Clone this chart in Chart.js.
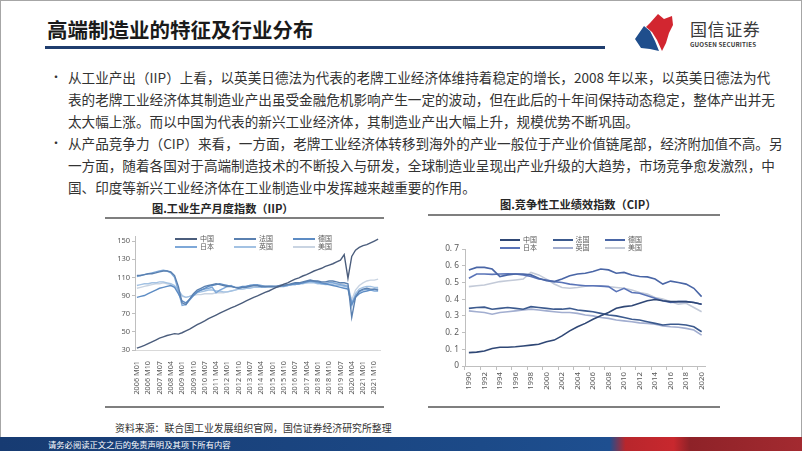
<!DOCTYPE html>
<html><head><meta charset="utf-8">
<script src="https://cdn.jsdelivr.net/npm/chart.js@4.4.0/dist/chart.umd.min.js"></script>
<style>
html,body{margin:0;padding:0;background:#fff;}
body{width:802px;height:451px;position:relative;overflow:hidden;font-family:"Noto Sans CJK SC","Noto Sans",sans-serif;}
#frame{position:absolute;left:0;top:0;width:800px;height:449px;border:1px solid #a6a6a6;}
.abs{position:absolute;white-space:nowrap;}
#title{left:47px;top:15px;font-size:20.5px;font-weight:bold;color:#1a1a1a;line-height:28px;}
#rule{left:45px;top:46px;width:560px;height:3px;background:#1f3d6e;}
.txt{position:absolute;left:68px;font-size:13.6px;color:#333;white-space:nowrap;line-height:20px;}
.dot{position:absolute;left:50px;font-size:12px;color:#333;line-height:20px;}
.ctitle{position:absolute;font-size:11.2px;font-weight:bold;color:#262626;white-space:nowrap;line-height:14px;}
.hr{position:absolute;height:1.5px;background:#7f7f7f;}
.leg{position:absolute;font-size:7px;color:#595959;line-height:8px;}
.leg span.item{position:absolute;white-space:nowrap;}
.leg i{display:inline-block;vertical-align:middle;height:2px;margin-right:3px;}
#src{left:115px;top:421px;font-size:9.9px;color:#333;line-height:14px;}
#foot{position:absolute;left:0;top:437px;width:802px;height:14px;background:linear-gradient(90deg,#173b72 0%,#1c4a88 60%,#1e4f90 76%,#b8262c 78%,#c8282e 84%,#8e2228 86%,#a32a30 100%);}
#foottxt{left:48px;top:437px;font-size:8.3px;color:#fff;line-height:14px;}
canvas{position:absolute;}
</style>
</head><body>
<div id="frame"></div>
<div class="abs" id="title">高端制造业的特征及行业分布</div>
<div class="abs" id="rule"></div>
<svg class="abs" style="left:630px;top:10px" width="50" height="45" viewBox="630 10 50 45">
  <polygon points="650,23 658,14 664,19 672,16 673,25 669,33 666,43 662,51 657,40 652,32 646,27" fill="#d22630"/>
  <polygon points="635,39 644,26 650,31 655,41 659,51 650,49 641,48" fill="#1f4e8c"/>
</svg>
<div class="abs" style="left:690px;top:18px;font-size:17px;color:#3a3a3a;line-height:22px;letter-spacing:0.6px">国信证券</div>
<div class="abs" style="left:690px;top:41px;font-size:6.2px;font-weight:bold;color:#3a3a3a;line-height:8px;letter-spacing:0.15px">GUOSEN SECURITIES</div>

<div class="dot" style="top:67px">•</div>
<div class="txt" style="top:67px">从工业产出（IIP）上看，以英美日德法为代表的老牌工业经济体维持着稳定的增长，2008 年以来，以英美日德法为代</div>
<div class="txt" style="top:89px">表的老牌工业经济体其制造业产出虽受金融危机影响产生一定的波动，但在此后的十年间保持动态稳定，整体产出并无</div>
<div class="txt" style="top:111px">太大幅上涨。而以中国为代表的新兴工业经济体，其制造业产出大幅上升，规模优势不断巩固。</div>
<div class="dot" style="top:133px">•</div>
<div class="txt" style="top:133px">从产品竞争力（CIP）来看，一方面，老牌工业经济体转移到海外的产业一般位于产业价值链尾部，经济附加值不高。另</div>
<div class="txt" style="top:155px">一方面，随着各国对于高端制造技术的不断投入与研发，全球制造业呈现出产业升级的大趋势，市场竞争愈发激烈，中</div>
<div class="txt" style="top:177px">国、印度等新兴工业经济体在工业制造业中发挥越来越重要的作用。</div>

<div class="ctitle" style="left:152px;top:201px">图.工业生产月度指数（IIP）</div>
<div class="hr" style="left:105px;top:217px;width:279px"></div>
<div class="hr" style="left:105px;top:406px;width:279px"></div>
<div class="ctitle" style="left:500px;top:197px">图.竞争性工业绩效指数（CIP）</div>
<div class="hr" style="left:428px;top:214px;width:292px"></div>
<div class="hr" style="left:428px;top:406px;width:292px"></div>

<canvas id="c1" style="left:95px;top:228px;width:295px;height:180px" width="295" height="180"></canvas>
<canvas id="c2" style="left:415px;top:240px;width:305px;height:165px" width="305" height="165"></canvas>
<div class="leg" id="leg1" style="left:175px;top:234px"></div>
<div class="leg" id="leg2" style="left:500px;top:235px"></div>

<div class="abs" id="src">资料来源：联合国工业发展组织官网，国信证券经济研究所整理</div>
<div id="foot"></div>
<div class="abs" id="foottxt">请务必阅读正文之后的免责声明及其项下所有内容</div>

<script>
// ---------- IIP (monthly index, sampled quarterly) ----------
const iipLabels = [
 '2006 M01','2006 M04','2006 M07','2006 M10','2007 M01','2007 M04','2007 M07','2007 M10',
 '2008 M01','2008 M04','2008 M07','2008 M10','2009 M01','2009 M04','2009 M07','2009 M10',
 '2010 M01','2010 M04','2010 M07','2010 M10','2011 M01','2011 M04','2011 M07','2011 M10',
 '2012 M01','2012 M04','2012 M07','2012 M10','2013 M01','2013 M04','2013 M07','2013 M10',
 '2014 M01','2014 M04','2014 M07','2014 M10','2015 M01','2015 M04','2015 M07','2015 M10',
 '2016 M01','2016 M04','2016 M07','2016 M10','2017 M01','2017 M04','2017 M07','2017 M10',
 '2018 M01','2018 M04','2018 M07','2018 M10','2019 M01','2019 M04','2019 M07','2019 M10',
 '2020 M01','2020 M04','2020 M07','2020 M10','2021 M01','2021 M04','2021 M07','2021 M10',
 '2022 M01'];
const iipChina  = [32,33.5,35,37,39,41,43,44.5,46,47,48,47.5,49,51,53,55.5,58,60,62,64.5,66.5,68.5,70.5,72.5,74.5,76.5,78,80,82,84,86,88,89.5,91.5,93.5,95,97,99,100.5,102.5,104,106,108,109.5,111.5,113,115,117,118.5,120,122,123.5,125,127,129,135,109,133,140,143,145,146,148,150,152];
const iipFrance = [112,112,113,114,114,115,116,117,117,116,112,100,82,80,86,92,96,98,100,101,102,103,102,101,100,100,99,98,99,99,100,101,101,100,100,100,100,100,101,101,102,103,104,104,105,106,107,106,106,105,105,106,106,105,104,104,103,66,88,95,97,98,97,97,96];
const iipGermany= [88,89,90,92,94,96,98,99,100,101,99,92,84,82,86,90,94,96,98,100,101,102,103,102,101,100,99,99,100,100,101,101,101,100,100,100,100,100,101,101,102,102,103,103,104,105,106,106,105,104,103,102,101,100,99,98,97,80,88,92,94,95,96,97,97];
const iipJapan  = [111,112,113,114,115,116,117,118,117,115,110,95,79,80,85,90,94,96,97,98,99,93,96,98,100,101,99,98,99,100,101,102,102,101,100,100,100,99,100,100,101,102,102,103,104,105,106,105,104,103,103,104,104,103,102,101,100,82,90,94,96,97,96,95,95];
const iipUK     = [101,102,103,103,104,104,105,105,104,103,101,96,90,88,89,91,93,94,95,96,96,95,95,94,94,95,96,97,97,98,98,99,99,99,99,100,100,100,101,101,101,102,102,103,103,104,104,104,103,103,102,102,102,101,101,100,99,78,92,97,99,100,100,99,99];
const iipUS     = [98,99,100,101,102,103,103,104,103,102,100,95,89,88,89,90,91,91,92,92,92,93,93,93,94,95,96,97,97,98,99,99,100,100,100,100,100,100,100,101,101,102,103,103,104,104,105,105,104,104,104,104,104,103,103,102,101,85,96,101,104,106,107,107,108];
const iipYTicks = [30,50,70,90,110,130,150];

// ---------- CIP (annual) ----------
const cipYears = ['1990','1991','1992','1993','1994','1995','1996','1997','1998','1999','2000','2001','2002','2003','2004','2005','2006','2007','2008','2009','2010','2011','2012','2013','2014','2015','2016','2017','2018','2019','2020'];
const cipChina  = [0.08,0.083,0.09,0.105,0.112,0.112,0.115,0.12,0.125,0.13,0.145,0.155,0.18,0.21,0.235,0.255,0.28,0.3,0.32,0.345,0.355,0.36,0.375,0.39,0.398,0.39,0.385,0.385,0.385,0.38,0.37];
const cipFrance = [0.345,0.35,0.352,0.34,0.345,0.35,0.345,0.34,0.355,0.35,0.345,0.34,0.34,0.345,0.335,0.33,0.325,0.315,0.305,0.3,0.29,0.28,0.275,0.265,0.255,0.245,0.25,0.25,0.245,0.235,0.205];
const cipGermany= [0.575,0.59,0.59,0.58,0.535,0.545,0.55,0.55,0.545,0.525,0.51,0.505,0.52,0.54,0.55,0.555,0.565,0.58,0.575,0.555,0.56,0.545,0.535,0.533,0.52,0.49,0.508,0.50,0.49,0.465,0.415];
const cipJapan  = [0.525,0.55,0.55,0.548,0.55,0.552,0.55,0.545,0.535,0.52,0.515,0.505,0.50,0.49,0.485,0.48,0.48,0.478,0.475,0.445,0.465,0.44,0.435,0.42,0.405,0.39,0.38,0.385,0.385,0.38,0.37];
const cipUK     = [0.33,0.325,0.32,0.31,0.32,0.325,0.33,0.335,0.34,0.335,0.33,0.325,0.32,0.32,0.315,0.305,0.3,0.29,0.285,0.275,0.27,0.265,0.258,0.255,0.25,0.24,0.235,0.232,0.225,0.215,0.185];
const cipUS     = [0.475,0.48,0.485,0.495,0.505,0.51,0.515,0.52,0.56,0.545,0.52,0.49,0.47,0.465,0.47,0.478,0.48,0.48,0.475,0.47,0.465,0.455,0.44,0.43,0.41,0.40,0.385,0.37,0.375,0.35,0.325];

const seriesNames = ['中国','法国','德国','日本','英国','美国'];
const iipColors = ['#4b5d7c','#5a80b0','#5d8cc4','#7ea8d8','#a3c2e3','#c9d4e2'];
const cipColors = ['#2f4775','#3c5a8e','#4a66a6','#5a74b8','#a2aed0','#c3cad8'];

function legend(el, colors, colW, lineW){
  seriesNames.forEach((n,i)=>{
    const s=document.createElement('span'); s.className='item';
    s.style.left=(i%3)*colW+'px'; s.style.top=Math.floor(i/3)*8+'px';
    s.innerHTML='<i style="width:'+lineW+'px;background:'+colors[i]+'"></i>'+n;
    el.appendChild(s);
  });
}
legend(document.getElementById('leg1'), iipColors, 59, 22);
legend(document.getElementById('leg2'), cipColors, 52.5, 20);

Chart.defaults.font.family = '"Noto Sans","Liberation Sans",sans-serif';
Chart.defaults.color = '#595959';
Chart.defaults.animation = false;

const iipData = [iipChina,iipFrance,iipGermany,iipJapan,iipUK,iipUS];
new Chart(document.getElementById('c1'), {
  type:'line',
  data:{labels:iipLabels, datasets: iipData.map((d,i)=>({label:seriesNames[i],data:d,borderColor:iipColors[i],borderWidth:1.4,pointRadius:0,tension:0}))},
  options:{
    responsive:false, maintainAspectRatio:false,
    layout:{padding:{top:8.5,right:10,bottom:3,left:0}},
    plugins:{legend:{display:false},tooltip:{enabled:false}},
    scales:{
      x:{offset:true, grid:{display:false}, border:{color:'#d9d9d9'},
         ticks:{autoSkip:false,minRotation:90,maxRotation:90,padding:3,font:{size:7.3},
           callback:(v,i)=> i%3===0 ? iipLabels[i] : ''},
         afterFit:s=>{s.height=55;}},
      y:{min:30,max:155, grid:{drawOnChartArea:false,tickLength:3,color:'#bfbfbf'}, border:{color:'#bfbfbf'},
         afterBuildTicks:s=>{s.ticks=iipYTicks.map(v=>({value:v}));},
         ticks:{padding:2,font:{size:7.5}},
         afterFit:s=>{s.width=40;}}
    }
  }
});

const cipData = [cipChina,cipFrance,cipGermany,cipJapan,cipUK,cipUS];
new Chart(document.getElementById('c2'), {
  type:'line',
  data:{labels:cipYears, datasets: cipData.map((d,i)=>({label:seriesNames[i],data:d,borderColor:cipColors[i],borderWidth:1.6,pointRadius:0,tension:0}))},
  options:{
    responsive:false, maintainAspectRatio:false,
    layout:{padding:{top:9,right:14.5,bottom:0,left:0}},
    plugins:{legend:{display:false},tooltip:{enabled:false}},
    scales:{
      x:{offset:true, grid:{offset:true,drawOnChartArea:false,tickLength:4,
           color:c=> (c.index%2===0)?'#bfbfbf':'rgba(0,0,0,0)'}, border:{color:'#bfbfbf'},
         ticks:{autoSkip:false,minRotation:90,maxRotation:90,padding:2,font:{size:7.8},
           callback:(v,i)=> i%2===0 ? cipYears[i] : ''},
         afterFit:s=>{s.height=39;}},
      y:{min:0,max:0.7, grid:{drawOnChartArea:false,tickLength:3,color:'#bfbfbf'}, border:{color:'#bfbfbf'},
         ticks:{stepSize:0.1,padding:3,font:{size:8.3},
           callback:v=> Math.abs(v)<1e-9 ? '0' : '0. '+Math.round(v*10)},
         afterFit:s=>{s.width=50;}}
    }
  }
});
</script>
</body></html>
